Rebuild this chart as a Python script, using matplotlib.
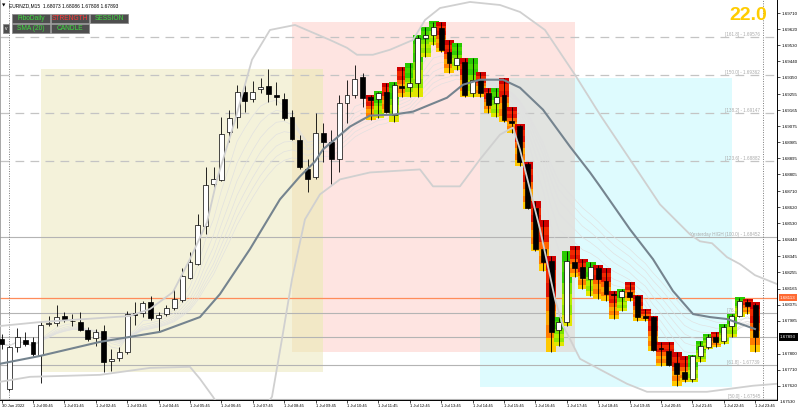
import numpy as np
import pandas as pd
import matplotlib
matplotlib.use("Agg")
import matplotlib.pyplot as plt
from matplotlib.patches import Rectangle
from matplotlib.colors import LinearSegmentedColormap

plt.rcParams['font.family'] = ['Liberation Sans', 'DejaVu Sans']

# ── DATA ─────────────────────────────────────────────────────
# EURNZD M15, bar index 0 = 1 Jul 00:45
bar_idx = list(range(-4, 93))

opens = [
    1.67882, 1.67603, 1.67838, 1.67877, 1.67866, 1.67793, 1.67966, 1.67972, 1.68011, 1.67983,
    1.67977, 1.67933, 1.67888, 1.67927, 1.67759, 1.67776, 1.67810, 1.68028, 1.68028, 1.68089,
    1.68000, 1.68022, 1.68056, 1.68100, 1.68223, 1.68302, 1.68514, 1.68754, 1.68771, 1.69045,
    1.69129, 1.69269, 1.69230, 1.69286, 1.69302, 1.69252, 1.69230, 1.69129, 1.69000, 1.68838,
    1.68788, 1.69040, 1.68984, 1.68894, 1.69207, 1.69252, 1.69353, 1.69241, 1.69230, 1.69269,
    1.69140, 1.69302, 1.69297, 1.69319, 1.69571, 1.69587, 1.69626, 1.69492, 1.69420, 1.69436,
    1.69263, 1.69336, 1.69263, 1.69207, 1.69252, 1.69107, 1.69079, 1.68866, 1.68615, 1.68386,
    1.68318, 1.67933, 1.67977, 1.68313, 1.68285, 1.68218, 1.68279, 1.68207, 1.68134, 1.68117,
    1.68145, 1.68123, 1.68011, 1.68005, 1.67832, 1.67815, 1.67748, 1.67698, 1.67659, 1.67787,
    1.67838, 1.67894, 1.67871, 1.67955, 1.68011, 1.68089, 1.68073]
highs = [
    1.67910, 1.67843, 1.67944, 1.67922, 1.67894, 1.67983, 1.68011, 1.68072, 1.68033, 1.68022,
    1.68033, 1.67950, 1.67938, 1.67961, 1.67827, 1.67838, 1.68039, 1.68089, 1.68095, 1.68123,
    1.68033, 1.68072, 1.68162, 1.68279, 1.68369, 1.68581, 1.68844, 1.68844, 1.69129, 1.69168,
    1.69308, 1.69308, 1.69330, 1.69347, 1.69397, 1.69325, 1.69263, 1.69168, 1.69028, 1.68889,
    1.69151, 1.69095, 1.69056, 1.69252, 1.69336, 1.69420, 1.69375, 1.69252, 1.69269, 1.69319,
    1.69325, 1.69409, 1.69431, 1.69587, 1.69632, 1.69660, 1.69660, 1.69559, 1.69543, 1.69459,
    1.69459, 1.69381, 1.69291, 1.69291, 1.69347, 1.69185, 1.69084, 1.68872, 1.68654, 1.68548,
    1.68346, 1.68005, 1.68374, 1.68402, 1.68330, 1.68313, 1.68296, 1.68279, 1.68151, 1.68162,
    1.68201, 1.68128, 1.68050, 1.68011, 1.67866, 1.67866, 1.67810, 1.67787, 1.67793, 1.67871,
    1.67910, 1.67922, 1.67966, 1.68022, 1.68112, 1.68106, 1.68086]
lows = [
    1.67827, 1.67592, 1.67810, 1.67843, 1.67787, 1.67636, 1.67955, 1.67955, 1.67977, 1.67955,
    1.67927, 1.67871, 1.67843, 1.67698, 1.67704, 1.67759, 1.67799, 1.67961, 1.68005, 1.67989,
    1.67927, 1.68011, 1.68045, 1.68089, 1.68218, 1.68296, 1.68469, 1.68732, 1.68766, 1.68989,
    1.69068, 1.69157, 1.69213, 1.69263, 1.69213, 1.69196, 1.69112, 1.69000, 1.68833, 1.68704,
    1.68777, 1.68872, 1.68749, 1.68816, 1.69095, 1.69235, 1.69185, 1.69112, 1.69123, 1.69151,
    1.69101, 1.69241, 1.69241, 1.69241, 1.69464, 1.69531, 1.69492, 1.69375, 1.69392, 1.69241,
    1.69241, 1.69241, 1.69151, 1.69129, 1.69101, 1.69040, 1.68850, 1.68609, 1.68374, 1.68263,
    1.67810, 1.67843, 1.67955, 1.68229, 1.68162, 1.68123, 1.68106, 1.68095, 1.67994, 1.68039,
    1.68095, 1.67983, 1.67983, 1.67815, 1.67732, 1.67732, 1.67620, 1.67642, 1.67642, 1.67754,
    1.67827, 1.67838, 1.67854, 1.67894, 1.68005, 1.68022, 1.67808]
closes = [
    1.67854, 1.67838, 1.67894, 1.67854, 1.67799, 1.67961, 1.67972, 1.68005, 1.67989, 1.67985,
    1.67933, 1.67882, 1.67922, 1.67754, 1.67771, 1.67810, 1.68022, 1.68017, 1.68084, 1.68000,
    1.68017, 1.68056, 1.68106, 1.68235, 1.68313, 1.68520, 1.68743, 1.68777, 1.69034, 1.69123,
    1.69269, 1.69218, 1.69269, 1.69297, 1.69258, 1.69241, 1.69123, 1.69006, 1.68844, 1.68782,
    1.69040, 1.68984, 1.68894, 1.69207, 1.69252, 1.69341, 1.69235, 1.69224, 1.69263, 1.69157,
    1.69308, 1.69291, 1.69319, 1.69571, 1.69587, 1.69632, 1.69504, 1.69431, 1.69459, 1.69252,
    1.69336, 1.69263, 1.69196, 1.69241, 1.69112, 1.69095, 1.68872, 1.68615, 1.68386, 1.68313,
    1.67922, 1.67977, 1.68318, 1.68279, 1.68223, 1.68285, 1.68218, 1.68134, 1.68128, 1.68151,
    1.68117, 1.68005, 1.68000, 1.67821, 1.67827, 1.67737, 1.67687, 1.67659, 1.67787, 1.67843,
    1.67894, 1.67866, 1.67950, 1.68011, 1.68095, 1.68067, 1.67893]
heat_start = 43   # candles from here carry the strength heat block

# SMA (20) line, traced
sma_x = [-4.2, 0.89, 8.54, 12.36, 16.18, 21.27, 23.82, 27.64, 31.46, 34.01, 35.92, 36.94,
         40.38, 42.93, 45.86, 48.41, 52.74, 54.78, 56.94, 59.87, 62.04, 64.97, 68.41, 70.96,
         72.23, 76.05, 78.98, 81.53, 84.08, 86.24, 88.41, 91.97]
sma_y = [1.67743, 1.67787, 1.67866, 1.67894, 1.67922, 1.68005, 1.68134, 1.68386, 1.68665, 1.68794,
         1.68877, 1.68945, 1.69073, 1.69135, 1.69140, 1.69157, 1.69235, 1.69308, 1.69336, 1.69336,
         1.69291, 1.69168, 1.68961, 1.68816, 1.68738, 1.68497, 1.68330, 1.68151, 1.68022, 1.68005,
         1.67994, 1.67938]

# envelope bands (light grey)
up_x = [-4.2, 0.89, 12.36, 14.90, 17.83, 20.0, 22.17, 23.44, 25.73, 27.90,
        30.19, 33.38, 37.83, 40.0, 41.27, 43.31, 45.48, 48.41, 49.94, 51.85,
        55.67, 59.49, 62.04, 65.22, 69.04, 72.23, 76.05, 79.87, 83.69, 84.97,
        86.50, 88.41, 90.06, 91.97, 94.8]
up_y = [1.67955, 1.67977, 1.68011, 1.68050, 1.68145, 1.68330, 1.68536, 1.68777, 1.69107, 1.69448,
        1.69615, 1.69643, 1.69559, 1.69515, 1.69476, 1.69476, 1.69504, 1.69559, 1.69671, 1.69738,
        1.69772, 1.69755, 1.69716, 1.69615, 1.69364, 1.69140, 1.68889, 1.68637, 1.68469, 1.68430,
        1.68419, 1.68341, 1.68302, 1.68240, 1.68190]
lo_x = [-4.2, -0.38, 8.54, 14.90, 20.0, 21.27, 22.93, 24.08, 29.17, 30.45,
        31.72, 33.0, 34.65, 36.56, 39.11, 42.93, 49.30, 50.96, 54.39, 56.94,
        59.49, 61.15, 62.04, 64.59, 66.50, 67.52, 68.41, 69.68, 71.34, 75.67,
        78.22, 85.86, 88.79, 91.72, 94.78]
lo_y = [1.67642, 1.67670, 1.67681, 1.67720, 1.67726, 1.67659, 1.67558, 1.67480, 1.67480, 1.67558,
        1.67882, 1.68218, 1.68553, 1.68693, 1.68777, 1.68816, 1.68833, 1.68738, 1.68738, 1.68889,
        1.69028, 1.69068, 1.68944, 1.68497, 1.68106, 1.67955, 1.67882, 1.67771, 1.67732, 1.67631,
        1.67586, 1.67586, 1.67603, 1.67620, 1.67631]

# sessions: Asia / London / New York boxes
session_start = [1, 33, 57]
session_end = [37, 69, 89]
session_high = [1.69397, 1.69660, 1.69347]
session_low = [1.67698, 1.67810, 1.67614]
session_colors = ['#F4F2DA', '#FEE4E1', '#DEFBFE']
overlap_colors = ['#F2E8C6', '#E1E3E0']

# daily fibo levels
fib_dashed = [1.69576, 1.69362, 1.69147, 1.68882]
fib_dashed_names = ['[161.8]', '[150.0]', '[138.2]', '[123.6]']
fib_solid = [1.68452, 1.68026, 1.67739, 1.67545]
fib_solid_names = ['Yesterday HIGH (100.0)', '[76.4]', '[61.8]', '[50.0]']
orange_level = 1.68113
bid = 1.67893

price_ticks = [1.69710, 1.69620, 1.69530, 1.69440, 1.69350, 1.69255, 1.69165, 1.69075,
               1.68985, 1.68895, 1.68805, 1.68710, 1.68620, 1.68530, 1.68440, 1.68345,
               1.68255, 1.68165, 1.68075, 1.67985, 1.67800, 1.67710, 1.67620]
time_ticks = list(range(-4, 93, 4))
time_labels = ['30 Jun 2022'] + ['1 Jul %02d:45' % h for h in range(0, 24)]
day_breaks = [-3, 93]

# ── FIGURE ───────────────────────────────────────────────────
W, H = 799, 415
fig = plt.figure(figsize=(W / 100, H / 100), dpi=100)
fig.patch.set_facecolor('white')
ax = fig.add_axes([0, 15 / H, 777 / W, 400 / H])
ax.set_facecolor('white')

# session boxes + overlaps
for s0, s1, hi, lo, col in zip(session_start, session_end, session_high, session_low, session_colors):
    ax.add_patch(Rectangle((s0, lo), s1 - s0, hi - lo, facecolor=col, edgecolor='none', zorder=0))
for i in range(len(session_start) - 1):
    x0 = max(session_start[i], session_start[i + 1])
    x1 = min(session_end[i], session_end[i + 1])
    y0 = max(session_low[i], session_low[i + 1])
    y1 = min(session_high[i], session_high[i + 1])
    if x0 < x1:
        ax.add_patch(Rectangle((x0, y0), x1 - x0, y1 - y0, facecolor=overlap_colors[i],
                               edgecolor='none', zorder=0.5))

# horizontal levels
for lvl, nm in zip(fib_dashed, fib_dashed_names):
    ax.axhline(lvl, color='#C4C4C4', lw=0.9, ls=(0, (7, 5)), zorder=1)
    ax.text(92.6, lvl, f'{nm} - {lvl:.5f}', fontsize=3.3, color='#AAAAAA',
            ha='right', va='bottom', zorder=1.2)
for lvl, nm in zip(fib_solid, fib_solid_names):
    ax.axhline(lvl, color='#B4B4B4', lw=0.8, zorder=1)
    ax.text(92.6, lvl, f'{nm} - {lvl:.5f}', fontsize=3.3, color='#AAAAAA',
            ha='right', va='bottom', zorder=1.2)
ax.axhline(bid, color='#B4B4B4', lw=0.8, zorder=1)
ax.axhline(orange_level, color='#FF8C5A', lw=0.9, zorder=1)
for d in day_breaks:
    ax.axvline(d, color='#7A7A7A', lw=0.7, ls=(0, (1, 1.5)), zorder=1)

# fan of fast EMAs from the closes
close_s = pd.Series(closes, index=bar_idx)
for span in [5, 7, 9, 11, 13, 15, 17]:
    ax.plot(bar_idx, close_s.ewm(span=span).mean().values, color='#E0E0E0', lw=0.45, zorder=2)

# heat blocks behind candles
heat_cmap = LinearSegmentedColormap.from_list(
    'heat', ['#D00000', '#FF3A00', '#FF9000', '#FFE000', '#C0F000', '#5ADC00', '#22C800'])
bear_grad = np.array([0.0, 0.12, 0.06, 0.25, 0.38, 0.3, 0.45])[:, None]
bull_grad = np.array([0.98, 0.88, 0.95, 0.78, 0.68, 0.74, 0.58])[:, None]
for n, o, h, l, c in zip(bar_idx, opens, highs, lows, closes):
    if n < heat_start:
        continue
    grad = bull_grad if c >= o else bear_grad
    ax.imshow(grad, extent=(n - 0.6, n + 0.6, l, h), cmap=heat_cmap, vmin=0, vmax=1,
              aspect='auto', interpolation='nearest', zorder=3)

# candles
body_w = 0.62
for n, o, h, l, c in zip(bar_idx, opens, highs, lows, closes):
    ax.vlines(n, l, h, color='black', lw=0.6, zorder=4)
    bottom = min(o, c)
    height = max(abs(c - o), 0.000015)
    ax.add_patch(Rectangle((n - body_w / 2, bottom), body_w, height,
                           facecolor='white' if c > o else 'black',
                           edgecolor='black', lw=0.5, zorder=4.5))

# bands and SMA on top
ax.plot(up_x, up_y, color='#D0D0D0', lw=1.3, zorder=5, solid_capstyle='round')
ax.plot(lo_x, lo_y, color='#D0D0D0', lw=1.3, zorder=5, solid_capstyle='round')
ax.plot(sma_x, sma_y, color='#75848F', lw=1.5, zorder=6)

# axes
ax.set_xlim(-4.2, 94.78)
ax.set_ylim(1.67540, 1.69783)
ax.yaxis.tick_right()
ax.set_yticks(price_ticks)
ax.set_yticklabels([f'{p:.5f}' for p in price_ticks], fontsize=3.2)
ax.set_xticks(time_ticks)
ax.set_xticklabels(time_labels, fontsize=3.0)
for lbl in ax.get_xticklabels():
    lbl.set_ha('left')
ax.tick_params(axis='x', length=2, width=0.5, pad=1)
ax.tick_params(axis='y', length=2, width=0.5, pad=1)
for side in ['right', 'bottom']:
    ax.spines[side].set_color('black')
    ax.spines[side].set_linewidth(0.7)
ax.spines['left'].set_color('#9A9A9A')
ax.spines['left'].set_linewidth(0.6)
ax.spines['top'].set_visible(False)

ytr = ax.get_yaxis_transform()
ax.text(1.004, 1.67530, '1.67530', transform=ytr, fontsize=3.2, va='center', ha='left', clip_on=False)
ax.text(1.004, orange_level, f'{orange_level:.5f}', transform=ytr, fontsize=3.2, color='white',
        va='center', ha='left', clip_on=False,
        bbox=dict(boxstyle='square,pad=0.35', facecolor='#FF6A33', edgecolor='none'))
ax.text(1.004, bid, f'{bid:.5f}', transform=ytr, fontsize=3.2, color='white',
        va='center', ha='left', clip_on=False,
        bbox=dict(boxstyle='square,pad=0.35', facecolor='black', edgecolor='none'))

# ── OVERLAY: header, buttons, counter ───────────────────────
ov = fig.add_axes([0, 0, 1, 1], zorder=10)
ov.set_xlim(0, W)
ov.set_ylim(H, 0)
ov.axis('off')

ov.text(2, 5.5, '\u25bc', fontsize=3.2, va='center', ha='left', family='DejaVu Sans')
ov.text(9, 5.5, f'EURNZD,M15  {opens[-1]:.5f} {highs[-1]:.5f} {lows[-1]:.5f} {closes[-1]:.5f}',
        fontsize=3.5, va='center', ha='left', color='black')

buttons = [(12, 14, 'FiboDaily', '#3EDC3E'), (51, 14, 'STRENGTH', '#FF3A3A'),
           (90, 14, 'SESSION', '#3EDC3E'), (12, 24, 'SMA (20)', '#3EDC3E'),
           (51, 24, 'CANDLE', '#3EDC3E')]
for bx, by, txt, col in buttons:
    ov.add_patch(Rectangle((bx, by), 38, 9.5, facecolor='#4E4E4E', edgecolor='#8C8C8C', lw=0.6))
    ov.text(bx + 19, by + 5, txt, fontsize=4.8, color=col, ha='center', va='center')
ov.add_patch(Rectangle((3, 24), 6, 9.5, facecolor='#4E4E4E', edgecolor='#8C8C8C', lw=0.6))
ov.text(6, 28.8, 'v', fontsize=3.5, color='white', ha='center', va='center')

ov.text(748, 15, '22.0', fontsize=14, fontweight='bold', color='#FFCC00', ha='center', va='center')

fig.savefig('out.png', dpi=100, facecolor='white')
